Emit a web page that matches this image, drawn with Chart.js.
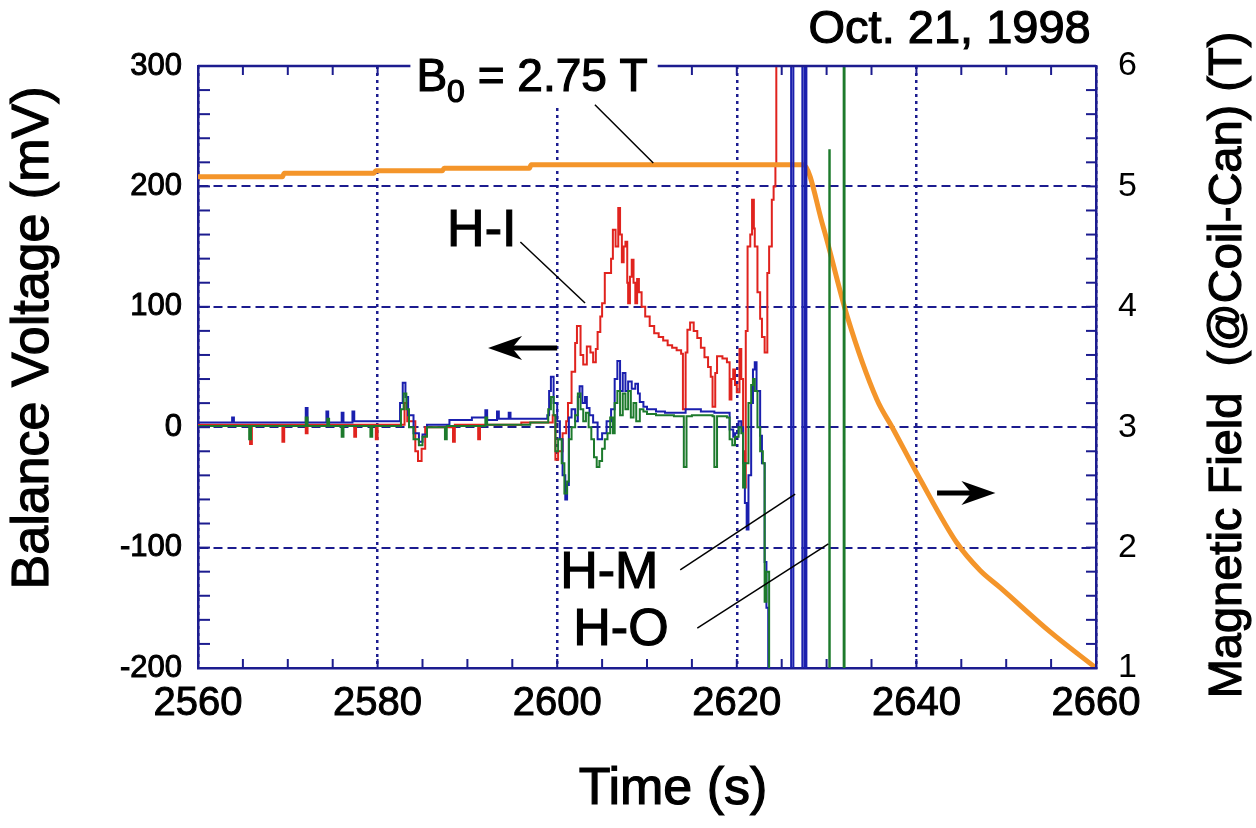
<!DOCTYPE html>
<html>
<head>
<meta charset="utf-8">
<script src="https://cdn.jsdelivr.net/npm/chart.js@4.4.1/dist/chart.umd.min.js"></script>
<style>
  html, body { margin: 0; padding: 0; background: #fff; }
  #wrap { width: 1256px; height: 828px; }
</style>
</head>
<body>
<div id="wrap"><canvas id="myChart" width="1256" height="828"></canvas></div>
<script>
// magnetic field (right axis, T)
var fieldTime = [2560, 2569.4, 2569.6, 2579.6, 2579.8, 2587.2, 2587.4, 2596.9, 2597.1, 2627.4,
	2629.6, 2632.3, 2635.6, 2637.3, 2640.4, 2644.5, 2647.1, 2649.3, 2654.9, 2660];
var fieldTesla = [5.08, 5.08, 5.11, 5.11, 5.13, 5.13, 5.15, 5.15, 5.18, 5.18,
	4.67, 3.92, 3.23, 3.0, 2.57, 2.04, 1.81, 1.67, 1.30, 1.0];

// H-I (red)
var hiTime = [2560, 2565.8, 2566.0, 2569.4, 2569.6, 2572.0, 2572.2, 2577.4, 2577.6, 2579.8,
	2580.0, 2583.0, 2583.3, 2584.2, 2584.5, 2584.9, 2585.3, 2588.4, 2588.6, 2591.2,
	2591.4, 2596.0, 2599.5, 2599.8, 2600.1, 2600.6, 2601.0, 2601.2, 2601.6, 2602.0,
	2602.2, 2602.6, 2602.9, 2603.3, 2603.7, 2604.0, 2604.3, 2604.5, 2604.8, 2605.0,
	2605.3, 2605.7, 2606.0, 2606.2, 2606.5, 2606.8, 2607.0, 2607.2, 2607.4, 2607.6,
	2607.8, 2607.9, 2608.1, 2608.3, 2608.5, 2608.7, 2608.9, 2609.1, 2609.4, 2609.8,
	2610.3, 2610.8, 2611.3, 2611.8, 2612.3, 2612.8, 2613.3, 2613.8, 2614.0, 2614.3,
	2614.5, 2614.8, 2615.2, 2615.6, 2616.0, 2616.4, 2616.8, 2617.1, 2617.3, 2617.6,
	2617.8, 2618.4, 2618.9, 2619.2, 2619.4, 2619.6, 2619.8, 2620.0, 2620.3, 2620.5,
	2620.7, 2620.9, 2621.0, 2621.2, 2621.5, 2621.7, 2621.9, 2622.0, 2622.3, 2622.6,
	2622.8, 2623.1, 2623.4, 2623.6, 2623.9, 2624.1, 2624.3, 2624.4];
var hiMv = [2, -14, 2, -12, 2, -5, 2, -8, 2, -10,
	2, 20, 5, -20, -28, -18, 0, -12, 2, -10,
	2, 4, 10, -27, -20, -5, 5, 20, 46, 70,
	84, 60, 52, 67, 62, 54, 65, 79, 92, 103,
	128, 128, 140, 164, 150, 182, 160, 137, 150, 154,
	120, 103, 125, 139, 120, 103, 123, 112, 100, 92,
	84, 78, 75, 72, 68, 66, 64, 61, 15, 62,
	81, 87, 80, 74, 66, 58, 50, 42, 17, 45,
	59, 57, 54, 23, 40, 48, 35, 29, 65, 40,
	-20, -50, 80, 150, 160, 189, 165, 150, 112, 90,
	75, 62, 128, 150, 189, 200, 217, 400];

// H-M (blue)
var hmTime = [2560, 2563.8, 2564.0, 2572.0, 2572.2, 2574.3, 2574.5, 2576.0, 2576.2, 2577.2,
	2577.4, 2582.5, 2582.8, 2583.1, 2583.4, 2584.0, 2584.6, 2585.0, 2585.5, 2588.0,
	2590.5, 2592.0, 2592.2, 2593.3, 2593.5, 2594.6, 2594.8, 2598.9, 2599.1, 2599.3,
	2599.6, 2600.0, 2600.3, 2600.6, 2600.9, 2601.1, 2601.3, 2601.6, 2602.0, 2602.3,
	2602.5, 2602.8, 2603.1, 2603.3, 2603.6, 2604.0, 2604.5, 2605.0, 2605.5, 2606.0,
	2606.4, 2606.7, 2607.0, 2607.3, 2607.6, 2607.9, 2608.3, 2608.7, 2609.0, 2609.2,
	2609.6, 2610.0, 2611.0, 2612.0, 2613.5, 2614.3, 2616.0, 2617.5, 2618.9, 2619.2,
	2619.6, 2619.8, 2620.2, 2620.5, 2620.7, 2620.9, 2621.1, 2621.3, 2621.6, 2621.8,
	2622.0, 2622.2, 2622.6, 2622.8, 2623.1, 2623.3, 2623.5, 2626.05, 2626.3, 2627.3,
	2627.55, 2627.75];
var hmMv = [4, 8, 4, 16, 4, 13, 4, 12, 4, 13,
	5, 20, 37, 25, 10, -5, -12, -6, 2, 6,
	8, 14, 6, 13, 7, 12, 7, 10, 30, 42,
	20, 5, -10, -40, -60, -48, 8, 15, 5, 25,
	34, 20, 25, 16, 10, 4, -10, -5, 5, 15,
	40, 55, 30, 45, 30, 38, 32, 36, 28, 21,
	17, 15, 13, 12, 12, 15, 13, 12, 12, -2,
	-8, -5, 5, 0, -30, -63, -85, -40, 20, 48,
	54, 30, -7, -30, -112, -150, -400, 400, -400, 400,
	-400, 400];

// H-O (green)
var hoTime = [2560, 2565.7, 2565.9, 2572.0, 2572.2, 2574.4, 2574.6, 2576.0, 2576.2, 2579.2,
	2579.4, 2582.6, 2582.9, 2583.2, 2583.5, 2584.0, 2584.6, 2585.0, 2585.5, 2587.5,
	2587.7, 2592.0, 2592.2, 2597.0, 2599.0, 2599.3, 2599.6, 2599.8, 2600.1, 2600.5,
	2600.8, 2601.1, 2601.3, 2601.6, 2602.0, 2602.3, 2602.6, 2602.9, 2603.2, 2603.5,
	2603.8, 2604.1, 2604.4, 2604.7, 2605.0, 2605.3, 2605.6, 2605.9, 2606.2, 2606.4,
	2606.7, 2607.0, 2607.3, 2607.6, 2607.9, 2608.2, 2608.5, 2608.8, 2609.2, 2609.6,
	2610.0, 2611.0, 2613.0, 2614.0, 2614.1, 2614.4, 2615.0, 2617.3, 2617.5, 2617.8,
	2618.9, 2619.2, 2619.5, 2619.8, 2620.2, 2620.5, 2620.7, 2620.9, 2621.3, 2621.6,
	2621.8, 2622.0, 2622.3, 2622.6, 2622.9, 2623.1, 2623.3, 2623.6, 2630.3, 2630.35,
	2631.9, 2632.0];
var hoMv = [1, -10, 1, 8, 1, 7, 1, -8, 1, -8,
	1, 15, 28, 15, 0, -10, -15, -8, 0, -10,
	1, 8, 2, 4, 15, 25, 10, -20, -10, -30,
	-55, -45, -10, 0, 10, 28, 15, 5, 12, 0,
	-10, -25, -33, -28, -18, -10, -5, 8, -5, 20,
	30, 10, 28, 15, 30, 8, 20, 5, 15, 13,
	11, 10, 9, 9, -33, 9, 10, 9, -33, 9,
	8, -10, -15, -8, 0, -5, -50, -30, 20, 35,
	40, 30, 0, -20, -30, -145, -120, -400, 230, -400,
	400, -400];

var timeTicks = [2560, 2580, 2600, 2620, 2640, 2660];

var navy = "#1c1c8f";
var fontFam = "'Liberation Sans', Arial, sans-serif";

function pts(ts, vs) {
	return ts.map(function (t, i) {
		return { x: t, y: vs[i] };
	});
}

// draws the frame extras, inward ticks, titles and the labels on the plot
var decorations = {
	id: "decorations",
	afterDraw: function (chart) {
		var ctx = chart.ctx;
		var a = chart.chartArea;
		var sx = chart.scales.x, sy = chart.scales.y, sb = chart.scales.y1;
		var X = function (t) { return sx.getPixelForValue(t); };
		var Y = function (v) { return sy.getPixelForValue(v); };

		function line(x1, y1, x2, y2) {
			ctx.beginPath();
			ctx.moveTo(x1, y1);
			ctx.lineTo(x2, y2);
			ctx.stroke();
		}
		// heavy text like the scanned original
		function text(s, x, y) {
			ctx.strokeStyle = "#000";
			ctx.lineWidth = 1.2;
			ctx.strokeText(s, x, y);
			ctx.fillText(s, x, y);
		}

		ctx.save();
		ctx.strokeStyle = navy;
		ctx.lineWidth = 2.5;
		line(a.left, a.top, a.right, a.top);

		ctx.lineWidth = 2;
		for (var t = 2560; t <= 2660; t += 5) {
			line(X(t), a.bottom, X(t), a.bottom - 9);
			line(X(t), a.top, X(t), a.top + 9);
		}
		for (var v = -200; v <= 300; v += 20) {
			line(a.left, Y(v), a.left + 12, Y(v));
		}
		for (var b = 10; b <= 60; b += 2) {
			var py = sb.getPixelForValue(b / 10);
			line(a.right, py, a.right - 10, py);
		}

		// white box where B0 label breaks the top border
		ctx.font = "46px " + fontFam;
		var part1 = "B", part2 = " = 2.75 T";
		var w1 = ctx.measureText(part1).width;
		ctx.font = "32px " + fontFam;
		var ws = ctx.measureText("0").width;
		ctx.font = "46px " + fontFam;
		var w2 = ctx.measureText(part2).width;
		var total = w1 + ws + w2;
		var cx = X(2597.2), cy = Y(290);
		var bx = cx - total / 2;
		ctx.fillStyle = "#fff";
		ctx.fillRect(bx - 6, a.top - 24, total + 16, 66);

		ctx.fillStyle = "#000";
		ctx.textBaseline = "middle";
		ctx.textAlign = "left";
		text(part1, bx, cy);
		ctx.font = "32px " + fontFam;
		text("0", bx + w1, cy + 15);
		ctx.font = "46px " + fontFam;
		text(part2, bx + w1 + ws, cy);

		ctx.textAlign = "center";
		ctx.font = "47px " + fontFam;
		text("Oct. 21, 1998", X(2643.7), Y(330));
		ctx.font = "52px " + fontFam;
		text("H-I", X(2591.6), Y(162));
		text("H-M", X(2605.8), Y(-122));
		text("H-O", X(2607.1), Y(-169));

		// leader lines
		ctx.strokeStyle = "#000";
		ctx.lineWidth = 1.5;
		line(X(2604.2), Y(267.8), X(2610.7), Y(219.4));
		line(X(2595.9), Y(153.8), X(2603.1), Y(103.2));
		line(X(2613.7), Y(-118.6), X(2626.5), Y(-55.5));
		line(X(2615.6), Y(-166.8), X(2630.2), Y(-97));

		// axis direction arrows
		function arrow(tTail, tTip, v) {
			var x1 = X(tTail), x2 = X(tTip), y = Y(v);
			var d = x2 > x1 ? 1 : -1;
			ctx.lineWidth = 5;
			line(x1, y, x2 - d * 18, y);
			ctx.beginPath();
			ctx.moveTo(x2, y);
			ctx.lineTo(x2 - d * 34, y - 12);
			ctx.lineTo(x2 - d * 24, y);
			ctx.lineTo(x2 - d * 34, y + 12);
			ctx.closePath();
			ctx.fillStyle = "#000";
			ctx.fill();
		}
		arrow(2600, 2592.3, 65.8);
		arrow(2642.3, 2648.8, -54.7);

		// axis titles
		ctx.fillStyle = "#000";
		ctx.font = "52px " + fontFam;
		text("Time (s)", 673, 790);

		ctx.save();
		ctx.translate(34, 338);
		ctx.rotate(-Math.PI / 2);
		ctx.font = "52px " + fontFam;
		text("Balance Voltage (mV)", 0, 0);
		ctx.restore();

		ctx.save();
		ctx.translate(1228, 365);
		ctx.rotate(-Math.PI / 2);
		ctx.font = "47px " + fontFam;
		text("Magnetic Field  (@Coil-Can) (T)", 0, 0);
		ctx.restore();

		ctx.restore();
	},
};

var ctx = document.getElementById("myChart").getContext("2d");
var myChart = new Chart(ctx, {
	type: "line",
	data: {
		datasets: [
			{
				label: "H-O",
				data: pts(hoTime, hoMv),
				borderColor: "#1d7a2c",
				borderWidth: 2,
				stepped: true,
				yAxisID: "y",
				order: 1,
			},
			{
				label: "H-M",
				data: pts(hmTime, hmMv),
				borderColor: "#1a1fae",
				borderWidth: 2,
				stepped: true,
				yAxisID: "y",
				order: 2,
			},
			{
				label: "B",
				data: pts(fieldTime, fieldTesla),
				borderColor: "#f4952a",
				borderWidth: 5,
				cubicInterpolationMode: "monotone",
				yAxisID: "y1",
				order: 3,
			},
			{
				label: "H-I",
				data: pts(hiTime, hiMv),
				borderColor: "#e0231e",
				borderWidth: 2,
				stepped: true,
				yAxisID: "y",
				order: 4,
			},
		],
	},
	options: {
		responsive: false,
		animation: false,
		devicePixelRatio: 1,
		parsing: false,
		elements: { point: { radius: 0 } },
		layout: { padding: { top: 66, left: 0, right: 0, bottom: 0 } },
		plugins: { legend: { display: false }, tooltip: { enabled: false } },
		scales: {
			x: {
				type: "linear",
				position: "bottom",
				min: 2560,
				max: 2660,
				afterFit: function (s) { s.height = 160; },
				afterBuildTicks: function (s) {
					s.ticks = timeTicks.map(function (t) { return { value: t }; });
				},
				ticks: {
					color: "#000",
					padding: 12,
					maxRotation: 0,
					textStrokeColor: "#000",
					textStrokeWidth: 1,
					font: { family: fontFam, size: 40 },
					callback: function (v) { return String(v); },
				},
				grid: { color: navy, lineWidth: 2.5, drawTicks: false },
				border: { color: navy, width: 2.5, dash: [3, 4] },
			},
			y: {
				position: "left",
				min: -200,
				max: 300,
				afterFit: function (s) { s.width = 198; },
				ticks: {
					stepSize: 100,
					color: "#000",
					padding: 16,
					textStrokeColor: "#000",
					textStrokeWidth: 1,
					font: { family: fontFam, size: 31 },
					callback: function (v) { return String(v); },
				},
				grid: { color: navy, lineWidth: 2, drawTicks: false },
				border: { color: navy, width: 2.5, dash: [9, 5] },
			},
			y1: {
				position: "right",
				min: 1,
				max: 6,
				afterFit: function (s) { s.width = 160; },
				ticks: {
					stepSize: 1,
					color: "#000",
					padding: 22,
					font: { family: fontFam, size: 34 },
				},
				grid: { drawOnChartArea: false, drawTicks: false },
				border: { color: navy, width: 2.5 },
			},
		},
	},
	plugins: [decorations],
});
</script>
</body>
</html>
